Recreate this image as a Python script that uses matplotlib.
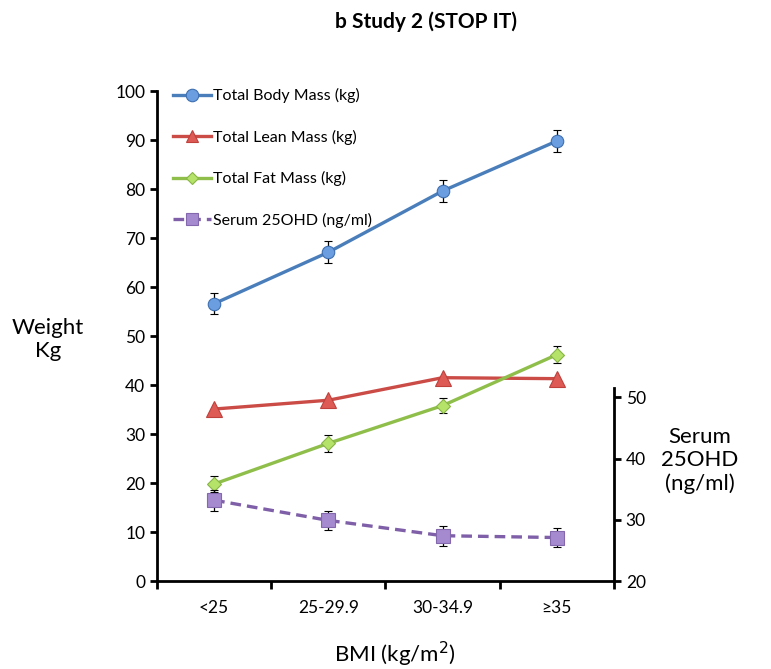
import matplotlib.pyplot as plt
from matplotlib.lines import Line2D
from matplotlib.ticker import FixedLocator

plt.rcParams['font.family'] = ['Lato', 'DejaVu Sans']

bmi_groups = ['<25', '25-29.9', '30-34.9', '≥35']

body_mass = [56.6, 67.1, 79.6, 89.8]
body_err = [2.2, 2.2, 2.2, 2.2]
lean_mass = [35.1, 36.9, 41.5, 41.3]
fat_mass = [19.8, 28.1, 35.8, 46.2]
fat_err = [1.6, 1.7, 1.6, 1.7]
serum = [33.2, 29.9, 27.4, 27.1]
serum_err = [1.7, 1.6, 1.6, 1.6]

labels = ['Total Body Mass (kg)', 'Total Lean Mass (kg)',
          'Total Fat Mass (kg)', 'Serum 25OHD (ng/ml)']

x = range(len(bmi_groups))

fig = plt.figure(figsize=(7.71, 6.69), dpi=100)
ax = fig.add_axes([0.2036, 0.1315, 0.5927, 0.7324])
ax2 = ax.twinx()

err_style = dict(ecolor='black', elinewidth=0.9, capsize=3, capthick=0.9)

body_style = dict(color='#4a7ebb', lw=2.4, marker='o', ms=9,
                  mfc='#6b9ee0', mec='#3f6fb0', mew=0.8)
lean_style = dict(color='#cb4b47', lw=2.4, marker='^', ms=11,
                  mfc='#dd5a55', mec='#c0403c', mew=0.8)
fat_style = dict(color='#8fbf4a', lw=2.4, marker='D', ms=7.5,
                 mfc='#b5e36a', mec='#88b545', mew=0.8)
serum_style = dict(color='#7e5fa8', lw=2.4, ls=(0, (3.2, 1.8)), marker='s', ms=10,
                   mfc='#a58ad0', mec='#8468ae', mew=0.8)

ax.errorbar(x, body_mass, yerr=body_err, zorder=3, **body_style, **err_style)
ax.plot(x, lean_mass, zorder=3, **lean_style)
ax.errorbar(x, fat_mass, yerr=fat_err, zorder=3, **fat_style, **err_style)
ax2.errorbar(x, serum, yerr=serum_err, zorder=3, **serum_style, **err_style)

ax.set_xlim(-0.5, 3.5)
ax.set_ylim(0, 100)
ax.set_yticks(range(0, 101, 10))
ax.set_xticks(list(x))
ax.set_xticklabels(bmi_groups, fontsize=12.5)
ax.xaxis.set_minor_locator(FixedLocator([-0.5, 0.5, 1.5, 2.5, 3.5]))
ax.tick_params(axis='x', which='major', length=0, pad=14)
ax.tick_params(axis='x', which='minor', length=6, width=2, direction='out')
ax.tick_params(axis='y', labelsize=12.5, length=5, width=2, direction='out')

ax2.set_ylim(20, 100)
ax2.set_yticks([20, 30, 40, 50])
ax2.tick_params(axis='y', labelsize=12.5, length=5, width=2, direction='out')
ax2.spines['right'].set_bounds(20, 51.5)

for a in (ax, ax2):
    a.spines['top'].set_visible(False)
    for s in a.spines.values():
        s.set_linewidth(2)
ax.spines['right'].set_visible(False)
ax2.spines['left'].set_visible(False)
ax2.spines['bottom'].set_visible(False)

handles = [Line2D([], [], **body_style),
           Line2D([], [], **dict(lean_style, ms=9)),
           Line2D([], [], **dict(fat_style, ms=6.5)),
           Line2D([], [], **dict(serum_style, ms=8.5))]
ax.legend(handles, labels, loc='upper left', bbox_to_anchor=(0.003, 1.035),
          frameon=False, fontsize=11.5, labelspacing=1.66, handlelength=2.4,
          handletextpad=0.1)

fig.text(0.552, 0.967, 'b Study 2 (STOP IT)', ha='center', va='center',
         fontsize=15, fontweight='bold')
fig.text(0.062, 0.492, 'Weight\nKg', ha='center', va='center', fontsize=16,
         linespacing=1.2)
fig.text(0.908, 0.312, 'Serum\n25OHD\n(ng/ml)', ha='center', va='center',
         fontsize=16, linespacing=1.2)
fig.text(0.512, 0.022, 'BMI (kg/m$^2$)', ha='center', va='center', fontsize=16)

fig.savefig('out.png', dpi=100)
